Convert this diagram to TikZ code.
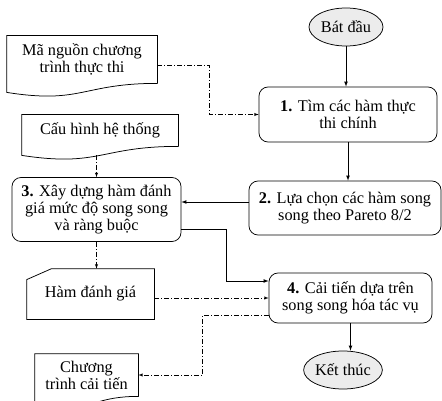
\documentclass[tikz,border=0pt]{standalone}
\usepackage{fontspec}
\setmainfont{Liberation Serif}
\usetikzlibrary{shapes.geometric, arrows}
\tikzstyle{terminal} = [
    ellipse, 
    minimum width=74pt, 
    minimum height=38pt, 
    inner sep=0pt, 
    text centered, 
    draw=black, 
    fill=gray!15
]
\tikzstyle{process} = [
    rectangle, 
    rounded corners=9pt, 
    inner sep=0pt, 
    align=center, 
    draw=black
]
\tikzstyle{docnode} = [
    rectangle, 
    inner sep=0pt, 
    align=center
]
\tikzstyle{arrow} = [
    ->, 
    >=latex
]
\tikzstyle{dasharrow} = [
    ->, 
    >=latex, 
    line width=0.5pt, 
    dash pattern=on 5pt off 2pt on 1pt off 2pt
]
% outline of a document symbol (wavy bottom)
\newcommand{\docframe}[1]{%
    \draw (#1.north west) -- (#1.north east) -- (#1.south east)
        .. controls (#1.south) and ([yshift=-21pt]#1.south) .. ([yshift=-9pt]#1.south west) -- cycle;}

\begin{document}
\begin{tikzpicture}[x=1pt, y=-1pt, font=\rmfamily\fontsize{16.3}{17}\selectfont, line width=0.75pt]
        \useasboundingbox (0,0) rectangle (442,401);
        \clip (0,0) rectangle (442,401);

        \node (start) [terminal] at (346,27) {Bát đầu};
        \node (step1) [process, minimum width=178pt, minimum height=55pt] at (348,114.5) {\textbf{1.} Tìm các hàm thực\\thi chính};
        \node (step2) [process, minimum width=192pt, minimum height=54pt] at (345,208) {\textbf{2.} Lựa chọn các hàm song\\song theo Pareto 8/2};
        \node (step3) [process, minimum width=169pt, minimum height=64pt] at (96.5,209.5) {\textbf{3.} Xây dựng hàm đánh\\giá mức độ song song\\và ràng buộc};
        \node (step4) [process, minimum width=163pt, minimum height=50pt] at (350.5,298) {\textbf{4.} Cải tiến dựa trên\\song song hóa tác vụ};
        \node (stop) [terminal] at (343,370) {Kết thúc};

        \node (source) [docnode, minimum width=150pt, minimum height=47pt] at (82,59.5) {Mã nguồn chương\\trình thực thi};
        \docframe{source}
        \node (config) [docnode, minimum width=156pt, minimum height=31pt] at (100,130.5) {Cấu hình hệ thống};
        \docframe{config}
        \node (score) [docnode, minimum width=127pt, minimum height=50pt] at (90.5,294) {Hàm đánh giá};
        \draw ([yshift=-11pt]score.north west) -- ([xshift=25pt]score.north west) -- (score.north east)
            -- (score.south east) -- (score.south west) -- cycle;
        \node (output) [docnode, minimum width=103pt, minimum height=42pt] at (86.5,375) {Chương\\trình cải tiến};
        \docframe{output}

        \draw[arrow] (start.south) -- (start.south |- step1.north);
        \draw[arrow] (step1.south) -- (step1.south |- step2.north);
        \draw[arrow] ([yshift=6pt]step2.west) -- ([yshift=6pt]step2.west -| step3.east);
        \draw[arrow] ([yshift=-20pt]step3.east) -- ++(45,0) |- ([yshift=17pt]step4.west);
        \draw[arrow] (step4.south) -- (step4.south |- stop.north);

        \draw[dasharrow] ([yshift=-6pt]source.east) -- ++(52,0) |- (step1.west);
        \draw[dasharrow] ([yshift=-9pt]config.south -| step3.north) -- (step3.north);
        \draw[dasharrow] (step3.south) -- (step3.south |- score.north);
        \draw[dasharrow] (score.east |- step4.west) -- (step4.west);
        \draw[dasharrow] ([yshift=-17pt]step4.west) -- ++(-66,0) |- (output.east);
    \end{tikzpicture}
\end{document}
